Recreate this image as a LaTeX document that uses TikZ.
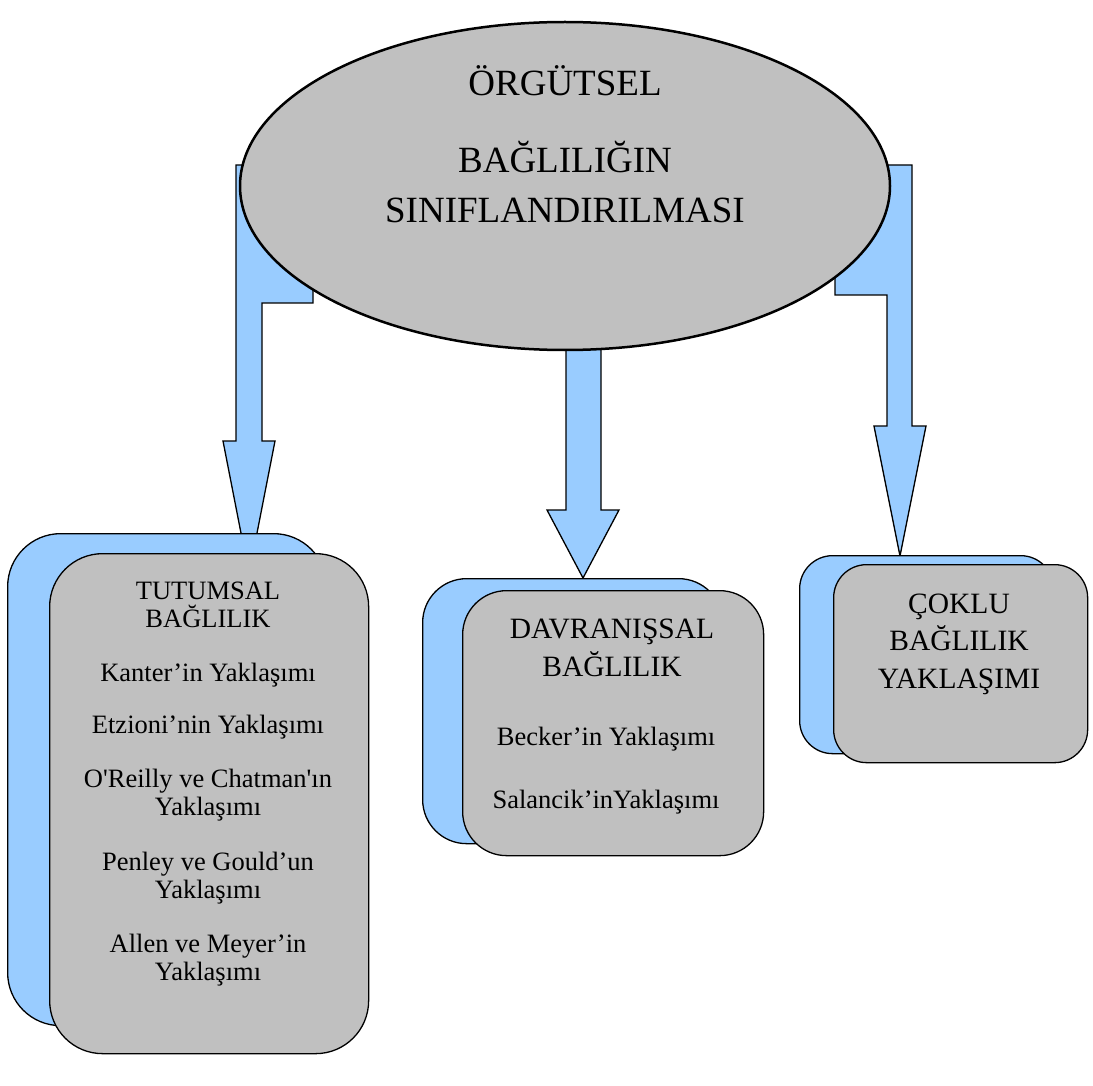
\documentclass[tikz,border=0pt]{standalone}
\usepackage{fontspec}
\setmainfont{Liberation Serif}
\usetikzlibrary{shapes.geometric}
\definecolor{arrowblue}{HTML}{99CCFF}
\definecolor{boxgrey}{HTML}{C0C0C0}

\begin{document}
\begin{tikzpicture}[x=1pt,y=-1pt,
  blockarrow/.style={draw=black,fill=arrowblue,line width=1.3pt,line join=miter},
  backbox/.style={draw=black,fill=arrowblue,line width=1.3pt,anchor=north west,inner sep=0pt},
  frontbox/.style={draw=black,fill=boxgrey,line width=1.3pt,anchor=north west,inner sep=0pt},
  boxtext/.style={align=center,anchor=base,inner sep=0pt,font=\fontsize{26.5}{28}\selectfont},
  titletext/.style={align=center,anchor=base,inner sep=0pt,font=\fontsize{29.5}{37.5}\selectfont}]
  \useasboundingbox (0,0) rectangle (1093,1086);

  % Block arrows
  \draw[blockarrow] (236,165) -- (313,165) -- (313,303) -- (262,303) -- (262,441)
    -- (275,441) -- (249,574) -- (223,441) -- (236,441) -- cycle;
  \draw[blockarrow] (566,300) -- (601,300) -- (601,510) -- (619,510) -- (583,578)
    -- (547,510) -- (566,510) -- cycle;
  \draw[blockarrow] (835,165) -- (912,165) -- (912,426) -- (926,426) -- (900,556)
    -- (874,426) -- (887,426) -- (887,295) -- (835,295) -- cycle;

  % Top ellipse
  \node[ellipse,draw=black,fill=boxgrey,line width=2.5pt,minimum width=650pt,
    minimum height=328pt,inner sep=0pt] (orgut) at (565,186) {};
  \node[align=center,anchor=base,inner sep=0pt,font=\fontsize{37}{51}\selectfont]
    (orguttext) at (565,223) {ÖRGÜTSEL\\[25pt]BAĞLILIĞIN\\SINIFLANDIRILMASI};

  % Boxes
  \node[backbox,minimum width=319pt,minimum height=492pt,rounded corners=53pt] (tutback) at (7,533) {};
  \node[frontbox,minimum width=319pt,minimum height=500pt,rounded corners=53pt] (tutfront) at (49,553) {};
  \node[backbox,minimum width=300pt,minimum height=265pt,rounded corners=44pt] (davback) at (422,578) {};
  \node[frontbox,minimum width=301pt,minimum height=265pt,rounded corners=44pt] (davfront) at (462,590) {};
  \node[backbox,minimum width=254pt,minimum height=198pt,rounded corners=33pt] (cokback) at (799,555) {};
  \node[frontbox,minimum width=254pt,minimum height=198pt,rounded corners=33pt] (cokfront) at (833,564) {};

  % Box texts
  \node[boxtext] (tuttext) at (208,980) {TUTUMSAL\\BAĞLILIK\\[26pt]Kanter’in Yaklaşımı\\[24pt]Etzioni’nin Yaklaşımı\\[26pt]O\textquotesingle Reilly ve Chatman\textquotesingle ın\\Yaklaşımı\\[27pt]Penley ve Gould’un\\Yaklaşımı\\[26pt]Allen ve Meyer’in\\Yaklaşımı};
  \node[titletext] (davtitle) at (612,676) {DAVRANIŞSAL\\BAĞLILIK};
  \node[boxtext,font=\fontsize{26.5}{31.5}\selectfont] (davitems) at (606,808) {Becker’in Yaklaşımı\\[31.5pt]Salancik’inYaklaşımı};
  \node[titletext] (coktitle) at (959,688) {ÇOKLU\\BAĞLILIK\\YAKLAŞIMI};
\end{tikzpicture}
\end{document}
